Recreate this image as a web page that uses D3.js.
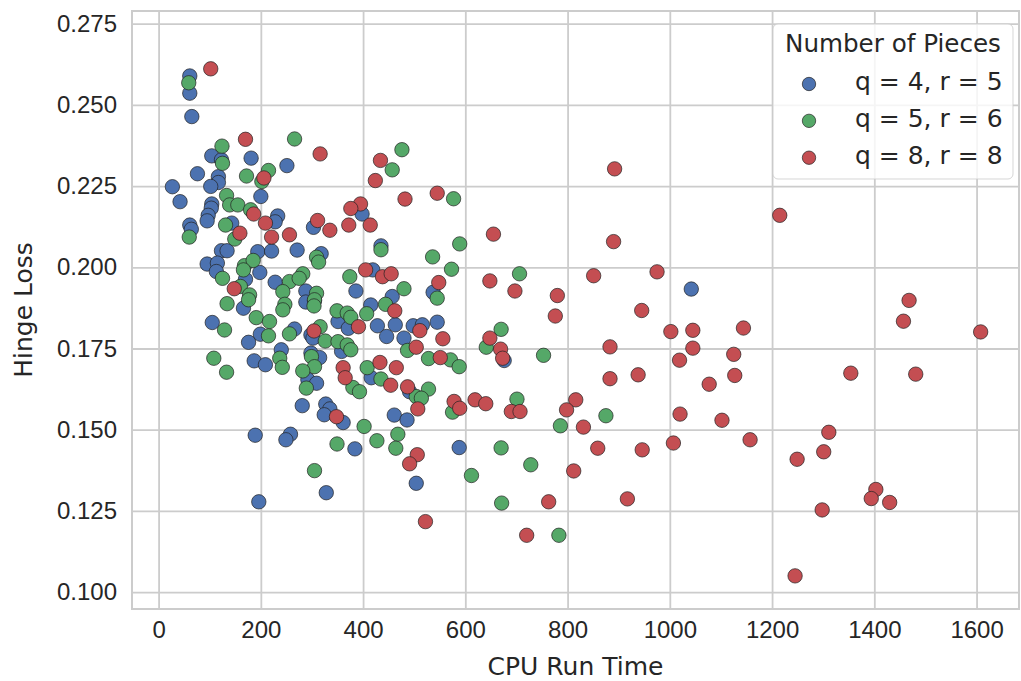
<!DOCTYPE html>
<html>
<head>
<meta charset="utf-8">
<script src="https://cdn.jsdelivr.net/npm/d3@7"></script>
<style>
  body { margin: 0; background: #fff; }
  svg { font-family: "DejaVu Sans", sans-serif; }
</style>
</head>
<body>
<svg id="chart" width="1021" height="681"></svg>
<script>
// series: [CPU run time, hinge loss]
const q4r5 = [
  [61,0.2589],[61,0.2536],[65,0.2464],[104,0.2343],[123,0.2331],[181,0.2336],[76,0.2288],[117,0.2279],[117,0.2261],[102,0.2249],[27,0.2248],[200,0.2218],
  [42,0.2202],[104,0.2195],[103,0.2182],[233,0.2158],[228,0.2140],[97,0.2160],[95,0.2143],[61,0.2130],[64,0.2117],[143,0.2136],[123,0.2051],[134,0.2051],[194,0.2048],[221,0.2050],[95,0.2010],[115,0.2013],[113,0.1987],[198,0.1984],[170,0.1963],[228,0.1954],[166,0.1874],[105,0.1830],[199,0.1794],[176,0.1769],
  [240,0.1746],[187,0.1712],[209,0.1700],[189,0.1483],[196,0.1278],
  [251,0.2313],[398,0.2164],[303,0.2123],[271,0.2053],[318,0.2042],[435,0.2066],
  [419,0.1992],[386,0.1927],[537,0.1923],[457,0.1910],[415,0.1884],[351,0.1833],[371,0.1812],[428,0.1820],[463,0.1823],[446,0.1787],[498,0.1820],[516,0.1823],[480,0.1782],[545,0.1831],[288,0.1927],[288,0.1893],[305,0.1897],[266,0.1810],[298,0.1792],[302,0.1782],[358,0.1741],[298,0.1736],[315,0.1722],[292,0.1654],[309,0.1643],[416,0.1660],[491,0.1617],
  [281,0.1574],[327,0.1579],[335,0.1564],[324,0.1546],[361,0.1522],[461,0.1545],[486,0.1530],[258,0.1486],[249,0.1469],[384,0.1441],[588,0.1445],[504,0.1335],[328,0.1306],
  [1042,0.1933],[676,0.1713]
];
const q5r6 = [
  [59,0.2568],[124,0.2373],[125,0.2320],[215,0.2298],[172,0.2281],[202,0.2264],[133,0.2221],
  [139,0.2192],[155,0.2192],[180,0.2177],[131,0.2130],[149,0.2087],[60,0.2093],[125,0.1966],[168,0.2005],[185,0.2021],[166,0.1992],[160,0.1941],[178,0.1915],[176,0.1900],[134,0.1888],[191,0.1845],[217,0.1833],[129,0.1807],[215,0.1789],
  [108,0.1720],[133,0.1677],[237,0.1720],[242,0.1692],
  [266,0.2395],[476,0.2362],[457,0.2300],[577,0.2211],[309,0.2031],[313,0.2016],[435,0.2054],[536,0.2032],[589,0.2072],
  [573,0.1994],[374,0.1971],[480,0.1934],[545,0.1905],[444,0.1886],[407,0.1857],[349,0.1866],[369,0.1859],[376,0.1846],[487,0.1744],[528,0.1719],[571,0.1715],[588,0.1694],[282,0.1980],[256,0.1956],[275,0.1966],[243,0.1925],[247,0.1886],[243,0.1869],[309,0.1920],[305,0.1900],[304,0.1881],[256,0.1795],[316,0.1817],[326,0.1773],[351,0.1771],[369,0.1761],[376,0.1746],[299,0.1725],[305,0.1694],[282,0.1681],[289,0.1628],[408,0.1691],[435,0.1656],[380,0.1630],[393,0.1617],[528,0.1625],[504,0.1602],[514,0.1597],
  [402,0.1510],[575,0.1554],[349,0.1456],[427,0.1466],[468,0.1486],[464,0.1443],[305,0.1374],
  [706,0.1980],[670,0.1809],
  [641,0.1754],[753,0.1729],[701,0.1594],[875,0.1543],[786,0.1512],[670,0.1444],[728,0.1392],[612,0.1359],[671,0.1274],[783,0.1175]
];
const q8r8 = [
  [102,0.2611],[170,0.2394],[206,0.2275],
  [186,0.2164],[209,0.2136],[159,0.2105],[221,0.2093],[148,0.1934],
  [316,0.2349],[434,0.2329],[424,0.2267],[482,0.2210],[545,0.2228],[395,0.2195],[376,0.2181],[311,0.2144],[335,0.2114],[372,0.2130],[414,0.2130],[256,0.2100],
  [405,0.1992],[438,0.1971],[455,0.1980],[548,0.1953],[462,0.1866],[391,0.1817],[511,0.1805],[556,0.1780],[504,0.1754],[551,0.1722],[304,0.1804],[361,0.1691],[365,0.1660],[433,0.1707],[465,0.1691],[454,0.1637],[487,0.1632],
  [348,0.1540],[507,0.1564],[578,0.1587],[589,0.1566],[506,0.1423],[491,0.1395],[522,0.1217],
  [892,0.2303],[655,0.2102],[890,0.2079],[648,0.1958],[697,0.1927],[780,0.1913],[776,0.1850],[851,0.1974],[975,0.1986],[945,0.1867],[1002,0.1802],[1045,0.1806],[648,0.1782],
  [669,0.1748],[673,0.1720],[883,0.1755],[1045,0.1751],[1019,0.1714],[938,0.1669],[883,0.1657],[619,0.1592],[640,0.1580],[690,0.1556],[707,0.1556],[816,0.1592],[798,0.1561],[831,0.1508],[812,0.1373],[859,0.1443],[946,0.1438],[1007,0.1459],[1020,0.1548],[763,0.1278],[917,0.1287],[720,0.1175],
  [1215,0.2160],[1468,0.1898],[1457,0.1834],[1608,0.1801],[1144,0.1813],
  [1125,0.1732],[1127,0.1667],[1077,0.1640],[1354,0.1674],[1481,0.1671],[1102,0.1529],[1157,0.1469],[1311,0.1492],[1301,0.1432],[1249,0.1409],[1403,0.1316],[1394,0.1288],[1430,0.1276],[1298,0.1253],[1245,0.1050]
];

const seriesNames = ["q = 4, r = 5", "q = 5, r = 6", "q = 8, r = 8"];
const seriesColors = ["#4C72B0", "#55A868", "#C44E52"];
const xTicks = [0, 200, 400, 600, 800, 1000, 1200, 1400, 1600];
const yTicks = [0.100, 0.125, 0.150, 0.175, 0.200, 0.225, 0.250, 0.275];

const svg = d3.select("#chart");
const margin = { left: 132, right: 2, top: 11, bottom: 72 };
const W = 1021 - margin.left - margin.right;
const H = 681 - margin.top - margin.bottom;

const x = d3.scaleLinear().domain([-52, 1683]).range([0, W]);
const y = d3.scaleLinear().domain([0.0948, 0.2789]).range([H, 0]);

const g = svg.append("g").attr("transform", `translate(${margin.left},${margin.top})`);

// grid + ticks
const xAxis = g.append("g")
  .attr("transform", `translate(0,${H})`)
  .call(d3.axisBottom(x).tickValues(xTicks).tickFormat(d3.format("d")).tickSizeInner(-H).tickSizeOuter(0).tickPadding(12));
const yAxis = g.append("g")
  .call(d3.axisLeft(y).tickValues(yTicks).tickFormat(d3.format(".3f")).tickSizeInner(-W).tickSizeOuter(0).tickPadding(15));

[xAxis, yAxis].forEach((a) => {
  a.select(".domain").remove();
  a.selectAll("line").attr("stroke", "#cccccc").attr("stroke-width", 1.8);
  a.selectAll("text").attr("fill", "#262626").style("font-size", "24px");
});

// frame
g.append("rect")
  .attr("width", W).attr("height", H)
  .attr("fill", "none").attr("stroke", "#cccccc").attr("stroke-width", 2);

// points
const allSeries = [q4r5, q5r6, q8r8];
allSeries.forEach((data, i) => {
  g.append("g").selectAll("circle")
    .data(data)
    .enter()
    .append("circle")
    .attr("cx", (d) => x(d[0]))
    .attr("cy", (d) => y(d[1]))
    .attr("r", 7.2)
    .attr("fill", seriesColors[i])
    .attr("stroke", "#222")
    .attr("stroke-width", 0.7);
});

// axis titles
svg.append("text")
  .attr("x", margin.left + W / 2).attr("y", 675)
  .attr("text-anchor", "middle")
  .attr("fill", "#262626").style("font-size", "25px")
  .text("CPU Run Time");
svg.append("text")
  .attr("transform", `translate(32,${margin.top + H / 2}) rotate(-90)`)
  .attr("text-anchor", "middle")
  .attr("fill", "#262626").style("font-size", "25px")
  .text("Hinge Loss");

// legend
const legend = svg.append("g").attr("transform", "translate(773,24)");
legend.append("rect")
  .attr("width", 240).attr("height", 155).attr("rx", 5).attr("ry", 5)
  .attr("fill", "white").attr("fill-opacity", 0.8)
  .attr("stroke", "#cccccc").attr("stroke-opacity", 0.8).attr("stroke-width", 1);
legend.append("text")
  .attr("x", 120).attr("y", 28)
  .attr("text-anchor", "middle")
  .attr("fill", "#262626").style("font-size", "24.6px")
  .text("Number of Pieces");
seriesNames.forEach((name, i) => {
  const row = legend.append("g").attr("transform", `translate(0,${60 + i * 36.85})`);
  row.append("circle")
    .attr("cx", 36).attr("cy", 0).attr("r", 6.7)
    .attr("fill", seriesColors[i]).attr("stroke", "#222").attr("stroke-width", 0.7);
  row.append("text")
    .attr("x", 82).attr("y", 6)
    .attr("fill", "#262626").style("font-size", "25px")
    .text(name);
});
</script>
</body>
</html>
